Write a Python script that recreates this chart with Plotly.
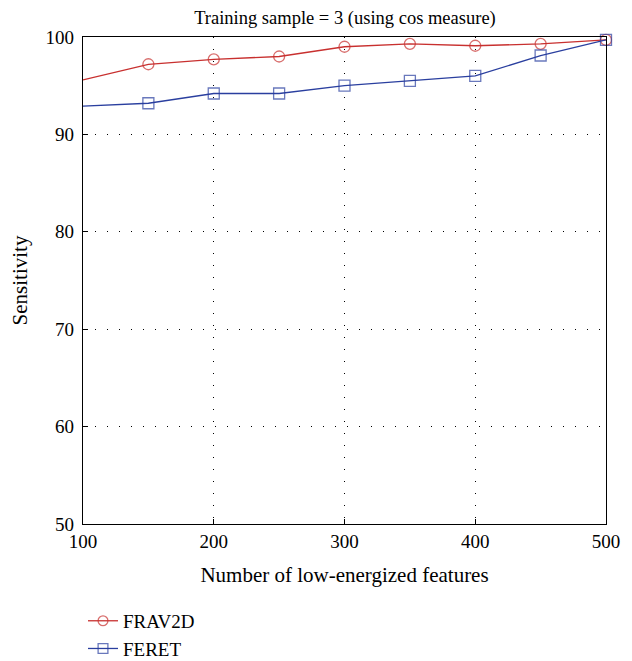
import plotly.graph_objects as go

features = [100, 150, 200, 250, 300, 350, 400, 450, 500]
frav2d = [95.6, 97.2, 97.7, 98.0, 99.0, 99.3, 99.1, 99.3, 99.7]
feret = [92.9, 93.2, 94.2, 94.2, 95.0, 95.5, 96.0, 98.1, 99.7]
x_ticks = [100, 200, 300, 400, 500]
y_ticks = [50, 60, 70, 80, 90, 100]

RED = "#c8302f"
BLUE = "#2a3f9f"
FONT = "Liberation Serif"

msize = [0] + [11] * (len(features) - 1)

fig = go.Figure()
fig.add_trace(go.Scatter(
    x=features, y=frav2d, name="FRAV2D", mode="lines+markers",
    legendgroup="a",
    line=dict(color=RED, width=1.3),
    marker=dict(symbol="circle-open", size=msize, color=RED, line=dict(width=1.3)),
    cliponaxis=False,
))
fig.add_trace(go.Scatter(
    x=features, y=feret, name="FERET", mode="lines+markers",
    legendgroup="b",
    line=dict(color=BLUE, width=1.3),
    marker=dict(symbol="square-open", size=msize, color=BLUE, line=dict(width=1.3)),
    cliponaxis=False,
))

# page has an 8px body margin, so the figure is 8px smaller on each side
fig.update_layout(
    width=624, height=653,
    margin=dict(l=75, r=26, t=29, b=137, autoexpand=False),
    paper_bgcolor="white", plot_bgcolor="white",
    font=dict(family=FONT, size=19, color="black"),
    title=dict(text="Training sample = 3 (using cos measure)", x=0.54, xanchor="center",
               xref="container", yref="container",
               y=1 - 10 / 653, yanchor="middle", font=dict(family=FONT, size=18.5)),
    showlegend=True,
    legend=dict(x=0.0, y=-0.16, xanchor="left", yanchor="top",
                font=dict(family=FONT, size=19), tracegroupgap=0,
                bgcolor="rgba(0,0,0,0)", itemwidth=30),
)
fig.update_xaxes(
    range=[100, 500], tickvals=x_ticks, ticktext=[str(v) for v in x_ticks],
    showline=True, linecolor="black", linewidth=1.2, mirror=True,
    ticks="inside", ticklen=5, tickcolor="black", ticklabelstandoff=0,
    showgrid=True, gridcolor="black", gridwidth=1, griddash="1px,11px",
    zeroline=False,
    title=dict(text="Number of low-energized features", standoff=16,
               font=dict(family=FONT, size=21)),
    tickfont=dict(family=FONT, size=19),
)
fig.update_yaxes(
    range=[50, 100], tickvals=y_ticks, ticktext=[str(v) for v in y_ticks],
    showline=True, linecolor="black", linewidth=1.2, mirror=True,
    ticks="inside", ticklen=5, tickcolor="black", ticklabelstandoff=4,
    showgrid=True, gridcolor="black", gridwidth=1, griddash="1px,11px",
    zeroline=False,
    title=dict(text="Sensitivity", standoff=18, font=dict(family=FONT, size=21)),
    tickfont=dict(family=FONT, size=19),
)

fig.write_html("out.html")
